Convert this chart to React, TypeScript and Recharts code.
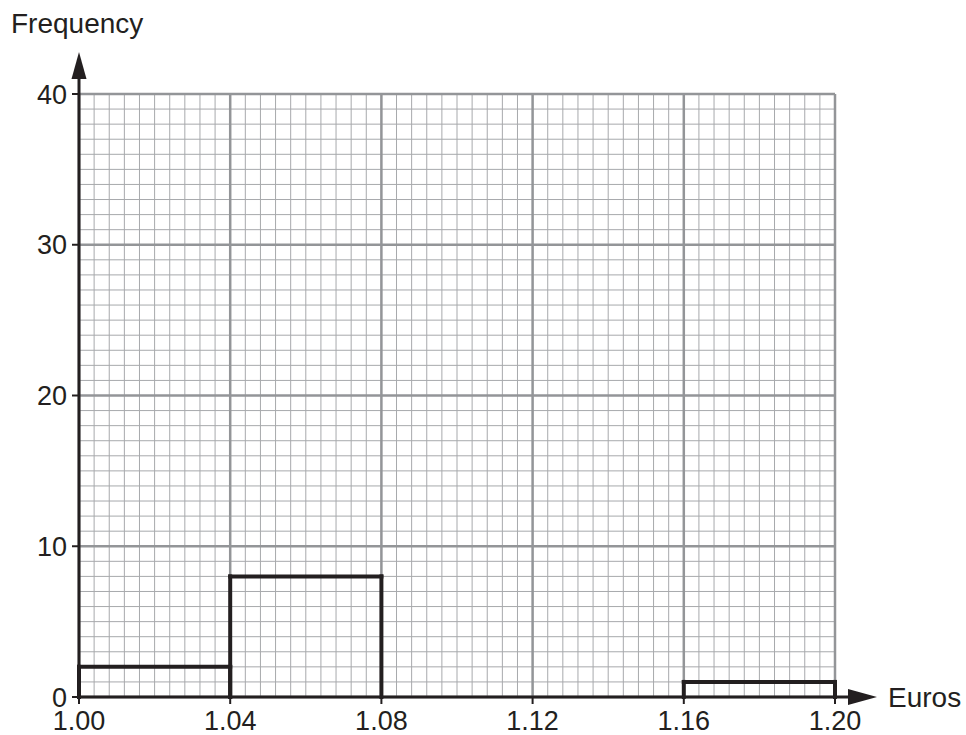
import { ComposedChart, XAxis, YAxis, ReferenceLine } from "recharts";

// Histogram bins (Euros) and their frequencies
const binStarts = [1.0, 1.04, 1.08, 1.12, 1.16];
const binEnds = [1.04, 1.08, 1.12, 1.16, 1.2];
const frequencies = [2, 8, 0, 0, 1];

// Axis ticks
const xTicks = [1.0, 1.04, 1.08, 1.12, 1.16, 1.2];
const yTicks = [0, 10, 20, 30, 40];

// Graph-paper minor lines: 10 small squares per major square
const minorX = Array.from({ length: 50 }, (_, i) => 1 + i * 0.004).slice(1);
const minorY = Array.from({ length: 40 }, (_, i) => i).slice(1);

const INK = "#231f20";
const MINOR = "#a7a9ac";
const MAJOR = "#939598";
const FONT = "'Liberation Sans', Arial, sans-serif";

const bins = binStarts.map((start, i) => ({
  start,
  end: binEnds[i],
  freq: frequencies[i],
}));

// outline of each non-empty bar: left side, top, right side
const barEdges = bins
  .filter((b) => b.freq > 0)
  .flatMap((b) => [
    [
      { x: b.start, y: 0 },
      { x: b.start, y: b.freq },
    ],
    [
      { x: b.start, y: b.freq },
      { x: b.end, y: b.freq },
    ],
    [
      { x: b.end, y: b.freq },
      { x: b.end, y: 0 },
    ],
  ]);

export default function App() {
  return (
    <div style={{ position: "absolute", left: 0, top: 0 }}>
      <ComposedChart
        width={966}
        height={735}
        data={bins}
        margin={{ top: 94, right: 131, bottom: 0, left: 0 }}
        style={{ fontFamily: FONT }}
      >
        {/* graph paper: minor lines first, then the major ones on top */}
        {minorX.map((v) => (
          <ReferenceLine key={`mx${v}`} x={v} stroke={MINOR} strokeWidth={1} />
        ))}
        {minorY.map((v) => (
          <ReferenceLine key={`my${v}`} y={v} stroke={MINOR} strokeWidth={1} />
        ))}
        {xTicks.map((v) => (
          <ReferenceLine key={`Mx${v}`} x={v} stroke={MAJOR} strokeWidth={2.5} />
        ))}
        {yTicks.map((v) => (
          <ReferenceLine key={`My${v}`} y={v} stroke={MAJOR} strokeWidth={2.5} />
        ))}

        {/* histogram bars, drawn as outlines */}
        {barEdges.map((seg, i) => (
          <ReferenceLine
            key={`bar${i}`}
            segment={seg}
            stroke={INK}
            strokeWidth={4}
            strokeLinecap="square"
          />
        ))}

        <XAxis
          dataKey="start"
          type="number"
          domain={[1, 1.2]}
          ticks={xTicks}
          interval={0}
          allowDataOverflow
          height={38}
          tickSize={7}
          tickMargin={7}
          tickFormatter={(v: number) => v.toFixed(2)}
          tick={{ fill: INK, fontSize: 27, fontFamily: FONT }}
          axisLine={{ stroke: INK, strokeWidth: 3 }}
          tickLine={{ stroke: INK, strokeWidth: 2 }}
          label={{
            content: (props: any) => {
              const { x, y, width } = props.viewBox;
              const end = x + width;
              return (
                <g>
                  <line
                    x1={end}
                    y1={y}
                    x2={end + 14}
                    y2={y}
                    stroke={INK}
                    strokeWidth={3}
                  />
                  <polygon
                    points={`${end + 13},${y - 8} ${end + 13},${y + 8} ${end + 42},${y}`}
                    fill={INK}
                  />
                  <text
                    x={end + 53}
                    y={y + 10}
                    fill={INK}
                    fontSize={28}
                    fontFamily={FONT}
                  >
                    Euros
                  </text>
                </g>
              );
            },
          }}
        />
        <YAxis
          dataKey="freq"
          type="number"
          domain={[0, 40]}
          ticks={yTicks}
          interval={0}
          allowDataOverflow
          width={79}
          tickSize={7}
          tickMargin={5}
          tick={{ fill: INK, fontSize: 27, fontFamily: FONT }}
          axisLine={{ stroke: INK, strokeWidth: 3 }}
          tickLine={{ stroke: INK, strokeWidth: 2 }}
          label={{
            content: (props: any) => {
              const { x, y, width } = props.viewBox;
              const ax = x + width;
              return (
                <g>
                  <line
                    x1={ax}
                    y1={y}
                    x2={ax}
                    y2={y - 16}
                    stroke={INK}
                    strokeWidth={3}
                  />
                  <polygon
                    points={`${ax - 7.5},${y - 15} ${ax + 7.5},${y - 15} ${ax},${y - 42}`}
                    fill={INK}
                  />
                  <text
                    x={x + 11}
                    y={y - 61}
                    fill={INK}
                    fontSize={28}
                    fontFamily={FONT}
                  >
                    Frequency
                  </text>
                </g>
              );
            },
          }}
        />
      </ComposedChart>
    </div>
  );
}
